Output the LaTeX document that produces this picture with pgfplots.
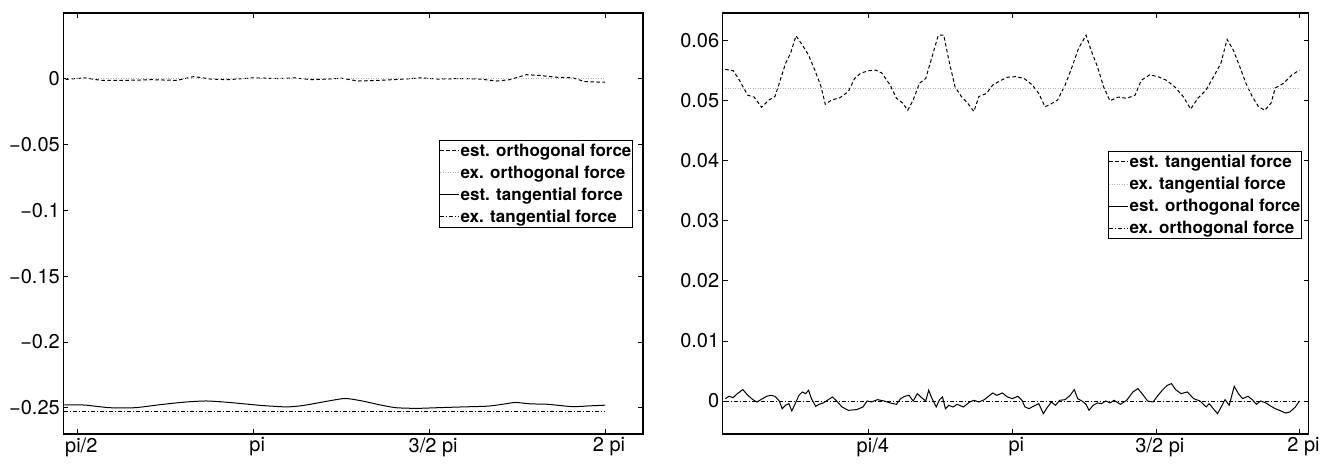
\documentclass[border=0pt]{standalone}
\usepackage{fontspec}
\setmainfont{TeX Gyre Heros}
\usepackage{pgfplots}
\pgfplotsset{compat=1.18}
\pgfplotsset{
  mystyle/.style={
    scale only axis, anchor=south west, height=421pt,
    tick align=inside, major tick length=5pt,
    scaled y ticks=false, scaled x ticks=false,
    ticklabel style={font=\fontsize{20}{22}\selectfont},
    xticklabel style={xshift=4pt},
    axis line style={line width=1.2pt},
    every tick/.style={line width=0.8pt, black},
    legend cell align=left,
    legend style={anchor=north east, font=\bfseries\fontsize{17}{19}\selectfont,
      draw=black, line width=1.2pt, inner xsep=0pt, inner ysep=2.5pt, row sep=6pt,
      nodes={inner xsep=1pt, inner ysep=1pt}},
    legend image code/.code={\draw[#1] plot coordinates {(0pt,0pt) (19pt,0pt)};},
  },
  estdash/.style={black, line width=1pt, dash pattern=on 3.5pt off 2.5pt},
  exdot/.style={gray!60, line width=0.9pt, dash pattern=on 1pt off 1.5pt},
  estsolid/.style={black, line width=1pt, solid},
  exdashdot/.style={black, line width=0.9pt, dash pattern=on 4pt off 2pt on 1pt off 2pt},
}
\begin{document}
\begin{tikzpicture}[x=1pt,y=1pt]
\path[use as bounding box] (0,0) rectangle (1338,464);
\begin{axis}[mystyle, at={(63.3pt,30pt)}, width=579.7pt,
  xmin=0.9204, xmax=4.216, ymin=-0.27, ymax=0.05,
  xtick={1,2,3,4}, xticklabels={pi/2,pi,3/2 pi,2 pi},
  ytick={-0.25,-0.2,-0.15,-0.1,-0.05,0},
  yticklabels={−0.25,−0.2,−0.15,−0.1,−0.05,0},
  legend style={at={(0.9828,0.6990)}},
]
\addplot[estdash] coordinates {
(0.933,-0.0005) (1.041,0.0007) (1.136,-0.0012) (1.280,-0.0012) (1.423,-0.0007)
(1.567,-0.0012) (1.663,0.0017) (1.758,-0.0002) (1.854,-0.0007) (1.998,0.0007)
(2.141,0.0002) (2.237,0.0007) (2.333,-0.0007) (2.428,-0.0002) (2.5,0.0005)
(2.596,-0.0017) (2.715,-0.0012) (2.859,-0.0002) (2.955,0.0007) (3.050,-0.0002)
(3.194,0.0002) (3.289,-0.0002) (3.385,-0.0017) (3.457,-0.0007) (3.553,0.0031)
(3.624,0.0026) (3.720,0.0012) (3.816,0.0007) (3.888,-0.0022) (4.0,-0.0026)};
\addlegendentry{est. orthogonal force}
\addplot[exdot] coordinates {(0.933,0) (4.0,0)};
\addlegendentry{ex. orthogonal force}
\addplot[estsolid, smooth, tension=0.4] coordinates {
(0.926,-0.2478) (1.041,-0.2480) (1.184,-0.2500) (1.328,-0.2500) (1.471,-0.2477)
(1.615,-0.2457) (1.734,-0.2449) (1.854,-0.2459) (1.950,-0.2471) (2.046,-0.2483)
(2.189,-0.2494) (2.285,-0.2483) (2.428,-0.2449) (2.524,-0.2430) (2.620,-0.2449)
(2.715,-0.2477) (2.811,-0.2500) (2.931,-0.2505) (3.050,-0.2500) (3.194,-0.2494)
(3.337,-0.2488) (3.433,-0.2471) (3.493,-0.2460) (3.577,-0.2471) (3.672,-0.2474)
(3.816,-0.2492) (3.912,-0.2486) (4.0,-0.2481)};
\addlegendentry{est. tangential force}
\addplot[exdashdot] coordinates {(0.926,-0.2531) (4.0,-0.2531)};
\addlegendentry{ex. tangential force}
\end{axis}

\begin{axis}[mystyle, at={(722.7pt,30pt)}, width=586pt,
  xmin=-0.0177, xmax=4.064, ymin=-0.0055, ymax=0.0646,
  xtick={1,2,3,4}, xticklabels={pi/4,pi,3/2 pi,2 pi},
  ytick={0,0.01,0.02,0.03,0.04,0.05,0.06},
  yticklabels={0,0.01,0.02,0.03,0.04,0.05,0.06},
  legend style={at={(0.9886,0.6729)}},
]
\addplot[estdash] coordinates {
(0,0.0552) (0.0554,0.0550) (0.0991,0.0534) (0.1283,0.0521) (0.1574,0.0509)
(0.2012,0.0506) (0.2536,0.0489) (0.3032,0.0501) (0.3469,0.0507) (0.3761,0.0529)
(0.4198,0.0562) (0.4548,0.0579) (0.4927,0.0608) (0.5364,0.0593) (0.5802,0.0576)
(0.6239,0.0551) (0.6676,0.0523) (0.6968,0.0494) (0.7405,0.0501) (0.7988,0.0505)
(0.8571,0.0515) (0.9009,0.0537) (0.9446,0.0546) (1.0029,0.0550) (1.0466,0.0551)
(1.0904,0.0546) (1.1487,0.0526) (1.1924,0.0504) (1.2362,0.0496) (1.2711,0.0484)
(1.3090,0.0501) (1.3528,0.0529) (1.3965,0.0537) (1.4402,0.0573) (1.4840,0.0609)
(1.5219,0.0609) (1.5569,0.0568) (1.6006,0.0523) (1.6443,0.0507) (1.6880,0.0496)
(1.7318,0.0482) (1.7668,0.0507) (1.8192,0.0512) (1.8630,0.0526) (1.9213,0.0534)
(1.9650,0.0539) (2.0233,0.0540) (2.0816,0.0537) (2.1399,0.0526) (2.1837,0.0512)
(2.2274,0.0490) (2.2566,0.0493) (2.3149,0.0501) (2.3673,0.0526) (2.4169,0.0557)
(2.4606,0.0587) (2.5131,0.0609) (2.5481,0.0584) (2.5918,0.0557) (2.6356,0.0523)
(2.6793,0.0500) (2.7376,0.0506) (2.7959,0.0504) (2.8542,0.0509) (2.8980,0.0534)
(2.9563,0.0543) (3.0146,0.0540) (3.0729,0.0534) (3.1312,0.0523) (3.1895,0.0507)
(3.2420,0.0486) (3.2915,0.0504) (3.3499,0.0518) (3.4082,0.0543) (3.4519,0.0562)
(3.4956,0.0602) (3.5394,0.0584) (3.5831,0.0557) (3.6268,0.0529) (3.6706,0.0507)
(3.7143,0.0490) (3.7580,0.0484) (3.8017,0.0496) (3.8309,0.0521) (3.8892,0.0529)
(3.9475,0.0543) (4.0,0.0551)};
\addlegendentry{est. tangential force}
\addplot[exdot] coordinates {(0,0.052) (4.0,0.052)};
\addlegendentry{ex. tangential force}
\addplot[estsolid] coordinates {
(0,0.00039) (0.0262,0.00078) (0.0554,0.00056) (0.0845,0.00122) (0.1224,0.00189)
(0.1574,0.00094) (0.1924,0.00022) (0.2216,-0.00017) (0.2595,0.00039) (0.2886,0.00078)
(0.3178,0.00094) (0.3469,0.00078) (0.3761,0) (0.3965,-0.00128) (0.4198,-0.00072)
(0.4431,-0.00044) (0.4636,-0.00167) (0.4927,-0.00017) (0.5131,0.00094) (0.5364,0.0015)
(0.5598,0.00122) (0.5802,0.00178) (0.6006,0.00039) (0.6297,-0.00089) (0.6531,-0.00056)
(0.6822,-0.00033) (0.7114,0.00011) (0.7464,0.00067) (0.7755,0) (0.8134,-0.001)
(0.8571,-0.00156) (0.9155,-0.00144) (0.9592,-0.001) (0.9883,0) (1.0175,-0.00017)
(1.0612,0.00022) (1.1050,0) (1.1487,-0.00033) (1.1924,-0.00056) (1.2216,0.00039)
(1.2507,0.00078) (1.2799,0.00094) (1.3090,0) (1.3382,0.00122) (1.3673,0.00056)
(1.3965,0) (1.4169,0.00178) (1.4402,0.00039) (1.4694,-0.001) (1.4927,0.00022)
(1.5131,0.00067) (1.5335,-0.00128) (1.5569,-0.00072) (1.5860,-0.001) (1.6152,-0.00056)
(1.6589,-0.001) (1.7026,-0.00017) (1.7318,0.00011) (1.7668,-0.00017) (1.8047,0.00022)
(1.8338,0.00078) (1.8630,0.00133) (1.8921,0.00094) (1.9300,0.00133) (1.9650,0.00067)
(2.0,0.00039) (2.0379,0.00078) (2.0671,0.00011) (2.0875,-0.001) (2.1166,-0.00128)
(2.1458,-0.00089) (2.1837,-0.00044) (2.2157,-0.00211) (2.2420,-0.00111) (2.2711,-0.00017)
(2.3003,-0.00072) (2.3294,0.00011) (2.3673,0.00022) (2.4023,0.00094) (2.4315,0.00189)
(2.4548,0.00039) (2.4840,0) (2.5131,-0.00056) (2.5335,-0.00156) (2.5627,-0.00072)
(2.5918,-0.00033) (2.6210,-0.00044) (2.6501,0) (2.6793,-0.00033) (2.7085,0.00011)
(2.7522,-0.00056) (2.7959,0.00011) (2.8397,0.0015) (2.8746,0.00206) (2.9125,0.00094)
(2.9417,0) (2.9796,-0.00017) (3.0146,0.00094) (3.0437,0.00178) (3.0787,0.00261)
(3.1079,0.00289) (3.1370,0.00189) (3.1749,0.00122) (3.2187,0.0015) (3.2624,0.00039)
(3.3061,0) (3.3499,-0.001) (3.3703,-0.00044) (3.3994,-0.00128) (3.4286,-0.00211)
(3.4519,-0.00111) (3.4810,0.00022) (3.5102,-0.00072) (3.5452,0.00244) (3.5743,0.00122)
(3.6035,0.00039) (3.6414,0.00078) (3.6706,0.00022) (3.6997,-0.00056) (3.7289,0)
(3.7668,-0.00033) (3.8017,-0.00089) (3.8309,-0.00128) (3.8601,-0.00156) (3.9038,-0.002)
(3.9329,-0.00183) (3.9708,-0.001) (4.0,0)};
\addlegendentry{est. orthogonal force}
\addplot[exdashdot] coordinates {(0,0) (4.0,0)};
\addlegendentry{ex. orthogonal force}
\end{axis}
\end{tikzpicture}
\end{document}
